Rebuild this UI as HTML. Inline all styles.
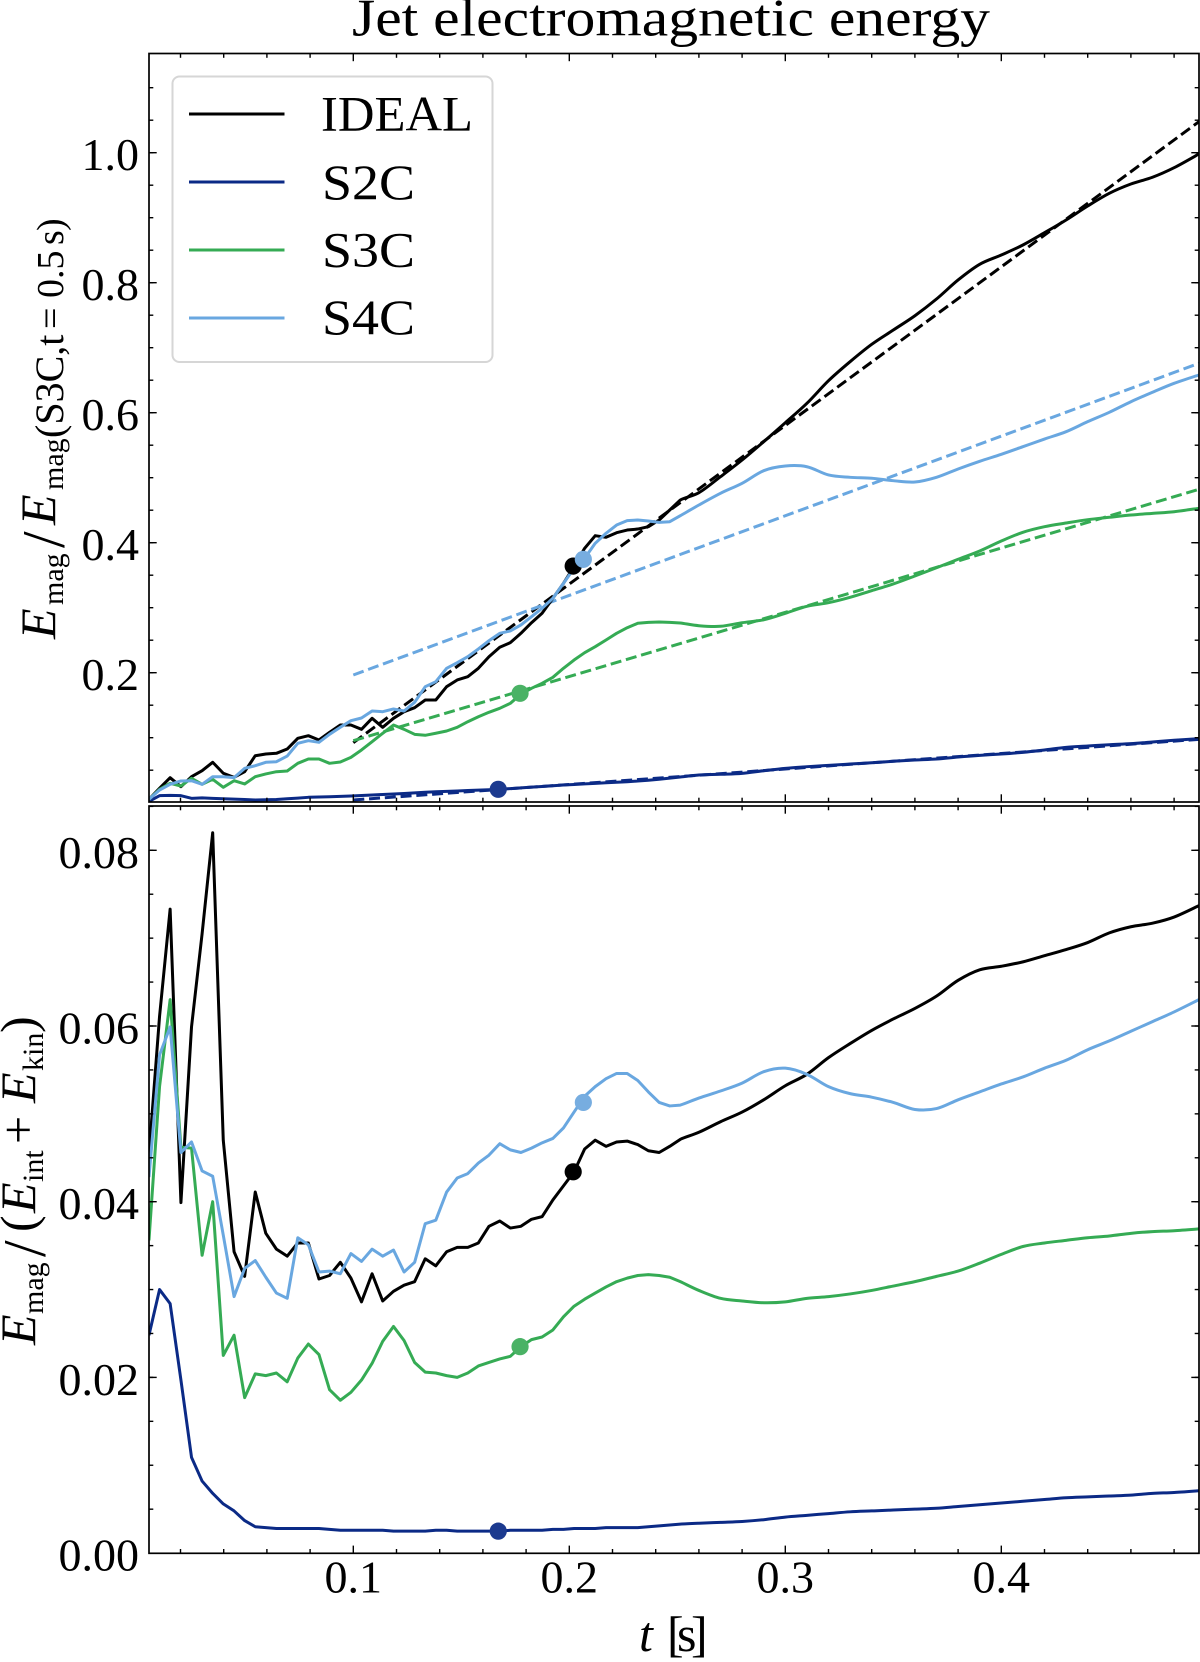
<!DOCTYPE html>
<html lang="en">
<head>
<meta charset="utf-8">
<title>Jet electromagnetic energy</title>
<style>
html,body{margin:0;padding:0;background:#fff;}
svg{display:block;font-family:"Liberation Serif",serif;fill:#000;}
</style>
</head>
<body>
<svg id="chart" xmlns="http://www.w3.org/2000/svg" width="1200" height="1662" viewBox="0 0 1200 1662">
<rect width="1200" height="1662" fill="#fff"/>
<defs>
<clipPath id="clip-top"><rect x="149" y="53.5" width="1050" height="748.5"/></clipPath>
<clipPath id="clip-bottom"><rect x="149" y="806" width="1050" height="747.5"/></clipPath>
</defs>
<text x="352" y="35.5" font-size="53" textLength="638" lengthAdjust="spacingAndGlyphs">Jet electromagnetic energy</text>

<g id="top-lines" clip-path="url(#clip-top)"></g>
<g id="bottom-lines" clip-path="url(#clip-bottom)"></g>
<g id="top-axes"></g>
<g id="bottom-axes"></g>

<g transform="translate(55,639) rotate(-90)">
<text x="0" y="0" font-size="50" font-style="italic">E</text>
<text x="34" y="8" font-size="30">mag</text>
<text x="91" y="9" font-size="60">/</text>
<text x="114" y="0" font-size="50" font-style="italic">E</text>
<text x="149" y="8" font-size="30">mag</text>
<text x="201" y="8" font-size="40">(S3C,t</text>
<text x="310" y="8" font-size="38">=</text>
<text x="341" y="8" font-size="38">0.5</text>
<text x="394" y="8" font-size="38">s</text>
<text x="408" y="8" font-size="38">)</text>
</g>

<g transform="translate(35,1345) rotate(-90)">
<text x="0" y="0" font-size="50" font-style="italic">E</text>
<text x="31" y="8" font-size="30">mag</text>
<text x="88" y="10" font-size="60">/</text>
<text x="113" y="0" font-size="50">(</text>
<text x="132" y="0" font-size="50" font-style="italic">E</text>
<text x="163" y="8" font-size="30">int</text>
<text x="201" y="0" font-size="50">+</text>
<text x="242" y="0" font-size="50" font-style="italic">E</text>
<text x="274" y="8" font-size="30">kin</text>
<text x="312" y="0" font-size="50">)</text>
</g>

<g>
<text x="639" y="1651" font-size="50" font-style="italic">t</text>
<text x="667" y="1651" font-size="50">[</text>
<text x="677" y="1651" font-size="50">s</text>
<text x="691" y="1651" font-size="50">]</text>
</g>

<g>
<rect x="172.5" y="76.5" width="320" height="285.5" rx="7" ry="7" fill="#fff" stroke="#d6d6d6" stroke-width="2"/>
<g>
<line x1="189" x2="284.5" y1="114" y2="114" stroke="#000" stroke-width="3"/>
<text x="321" y="130.7" font-size="50" textLength="152" lengthAdjust="spacingAndGlyphs">IDEAL</text>
</g>
<g>
<line x1="189" x2="284.5" y1="182" y2="182" stroke="#0b2a86" stroke-width="3"/>
<text x="322" y="199" font-size="50" textLength="93" lengthAdjust="spacingAndGlyphs">S2C</text>
</g>
<g>
<line x1="189" x2="284.5" y1="250" y2="250" stroke="#35ab54" stroke-width="3"/>
<text x="322" y="266.7" font-size="50" textLength="93" lengthAdjust="spacingAndGlyphs">S3C</text>
</g>
<g>
<line x1="189" x2="284.5" y1="318" y2="318" stroke="#69a7e0" stroke-width="3"/>
<text x="322" y="334" font-size="50" textLength="93" lengthAdjust="spacingAndGlyphs">S4C</text>
</g>
</g>
</svg>

<script>
/* ---------- data ---------- */
const times = [
.0054,.0103,.0152,.0202,.0251,.0300,.0349,.0398,.0448,.0497,
.0546,.0595,.0644,.0694,.0743,.0792,.0841,.0890,.0940,.0989,
.1038,.1087,.1136,.1186,.1235,.1284,.1333,.1382,.1432,.1481,
.1530,.1579,.1628,.1678,.1727,.1776,.1825,.1874,.1924,.1973,
.2022,.2071,.2120,.2170,.2219,.2268,.2317,.2366,.2416,.2465,.2514,
.26,.27,.28,.29,.30,.31,.32,.33,.34,.35,.36,.37,.38,.39,.40,.41,.42,.43,.44,.45,.46,.47,.48,.4915];

const energyIdeal = [
.0052,.0221,.0385,.0246,.0400,.0492,.0622,.0453,.0390,.0477,
.0723,.0749,.0760,.0826,.0991,.1031,.0965,.1083,.1195,.1195,
.1129,.1298,.1160,.1298,.1400,.1462,.1580,.1580,.1785,.1888,
.1938,.2068,.2246,.2391,.2462,.2606,.2769,.2914,.3145,.3375,
.3631,.3914,.4108,.4083,.4154,.4195,.4210,.4246,.4349,.4503,.4657,
.4769,.5015,.5272,.5554,.5846,.6144,.6492,.6785,.7052,.7272,.7492,.7749,.8042,.8283,.8426,.8580,.8769,.8965,.9180,.9375,.9518,.9622,.9769,.9980];

const energyS2C = [
.0020,.0108,.0113,.0108,.0067,.0075,.0067,.0060,.0055,.0050,
.0042,.0045,.0050,.0060,.0070,.0083,.0087,.0092,.0098,.0103,
.0110,.0118,.0126,.0134,.0142,.0151,.0160,.0169,.0175,.0181,
.0187,.0193,.0200,.0206,.0217,.0228,.0239,.0250,.0261,.0272,
.0281,.0289,.0298,.0306,.0315,.0323,.0333,.0345,.0360,.0378,.0395,
.0426,.0437,.0452,.0492,.0529,.0554,.0575,.0595,.0615,.0637,.0657,.0672,.0703,.0729,.0749,.0775,.0811,.0852,.0872,.0892,.0908,.0934,.0960,.0985];

const energyS3C = [
.0052,.0206,.0298,.0257,.0375,.0283,.0360,.0237,.0338,.0288,
.0400,.0442,.0477,.0488,.0606,.0672,.0672,.0606,.0626,.0698,
.0811,.0938,.1068,.1195,.1129,.1052,.1037,.1068,.1103,.1160,
.1246,.1323,.1391,.1452,.1529,.1670,.1760,.1837,.1929,.2068,
.2195,.2308,.2400,.2503,.2606,.2692,.2760,.2775,.2780,.2775,.2765,
.2723,.2714,.2769,.2815,.2914,.3022,.3077,.3160,.3262,.3365,.3488,.3615,.3745,.3872,.4026,.4160,.4246,.4303,.4354,.4391,.4426,.4452,.4477,.4529];

const energyS4C = [
.0052,.0195,.0283,.0334,.0338,.0283,.0400,.0400,.0385,.0529,
.0569,.0622,.0631,.0718,.0914,.0954,.0929,.1052,.1160,.1262,
.1303,.1411,.1400,.1442,.1411,.1545,.1785,.1862,.2068,.2154,
.2246,.2365,.2492,.2606,.2642,.2734,.2862,.2991,.3145,.3375,
.3606,.3760,.3991,.4145,.4272,.4340,.4349,.4334,.4313,.4323,.4415,
.4580,.4760,.4914,.5108,.5180,.5169,.5042,.5006,.4991,.4954,.4934,.5006,.5134,.5252,.5360,.5477,.5595,.5708,.5862,.6006,.6169,.6314,.6452,.6580];

const ratioIdeal = [
.0453,.0611,.0733,.0399,.0599,.0705,.0820,.0470,.0343,.0315,
.0411,.0364,.0346,.0338,.0353,.0353,.0312,.0316,.0331,.0313,
.0286,.0318,.0287,.0298,.0305,.0309,.0335,.0327,.0343,.0348,
.0348,.0353,.0372,.0378,.0370,.0372,.0380,.0383,.0402,.0418,
.0434,.0460,.0470,.0463,.0468,.0469,.0465,.0458,.0456,.0463,.0471,
.0479,.0491,.0502,.0516,.0532,.0545,.0564,.0580,.0595,.0608,.0620,.0634,.0652,.0664,.0668,.0673,.0680,.0687,.0695,.0706,.0713,.0717,.0724,.0737];

const ratioS2C = [
.0248,.0300,.0284,.0197,.0109,.0082,.0068,.0056,.0048,.0037,
.0030,.0029,.0028,.0028,.0028,.0028,.0028,.0027,.0026,.0026,
.0026,.0026,.0026,.0025,.0025,.0025,.0025,.0026,.0026,.0025,
.0025,.0025,.0025,.0025,.0026,.0026,.0026,.0026,.0027,.0027,
.0028,.0028,.0028,.0029,.0029,.0029,.0029,.0030,.0031,.0032,.0033,
.0034,.0035,.0036,.0038,.0041,.0043,.0045,.0047,.0048,.0049,.0050,.0051,.0053,.0055,.0057,.0059,.0061,.0063,.0064,.0065,.0066,.0068,.0069,.0071];

const ratioS3C = [
.0356,.0531,.0630,.0462,.0461,.0339,.0400,.0225,.0248,.0177,
.0204,.0202,.0205,.0195,.0222,.0238,.0226,.0186,.0174,.0183,
.0197,.0216,.0241,.0258,.0242,.0217,.0206,.0205,.0202,.0200,
.0205,.0213,.0217,.0221,.0224,.0235,.0243,.0246,.0254,.0269,
.0281,.0289,.0296,.0303,.0309,.0313,.0316,.0317,.0316,.0314,.0309,
.0299,.0290,.0287,.0285,.0286,.0290,.0292,.0295,.0299,.0304,.0309,.0315,.0321,.0330,.0340,.0349,.0353,.0356,.0359,.0361,.0364,.0366,.0367,.0369];

const ratioS4C = [
.0428,.0567,.0599,.0456,.0468,.0435,.0429,.0362,.0292,.0324,
.0333,.0314,.0296,.0290,.0359,.0351,.0320,.0321,.0318,.0341,
.0332,.0346,.0338,.0345,.0320,.0331,.0375,.0379,.0411,.0427,
.0432,.0444,.0453,.0466,.0459,.0456,.0461,.0467,.0472,.0484,
.0502,.0520,.0531,.0540,.0546,.0546,.0538,.0525,.0513,.0509,.0510,
.0518,.0526,.0535,.0548,.0552,.0545,.0531,.0523,.0519,.0513,.0505,.0506,.0516,.0525,.0534,.0542,.0552,.0561,.0573,.0583,.0594,.0605,.0616,.0630];

/* linear fits: [t start, t end] and values at those times */
const fitTimes = [0.1, 0.4915];
const fitIdeal = [0.0923, 1.0477];
const fitS2C = [0.0042, 0.0975];
const fitS3C = [0.0954, 0.4821];
const fitS4C = [0.1965, 0.6760];

/* transition markers */
const markerNames = ["ideal", "s2c", "s3c", "s4c"];
const markerTimes = [0.2018, 0.1671, 0.1772, 0.2065];
const markerEnergy = [0.364, 0.0206, 0.1683, 0.3744];
const markerRatio = [0.0434, 0.0025, 0.0235, 0.0513];

/* ticks */
const xTickValues = [0.1, 0.2, 0.3, 0.4];
const xTickLabels = ["0.1", "0.2", "0.3", "0.4"];
const energyTickValues = [0.2, 0.4, 0.6, 0.8, 1.0];
const energyTickLabels = ["0.2", "0.4", "0.6", "0.8", "1.0"];
const ratioTickValues = [0, 0.02, 0.04, 0.06, 0.08];
const ratioTickLabels = ["0.00", "0.02", "0.04", "0.06", "0.08"];

/* ---------- geometry ---------- */
const NS = "http://www.w3.org/2000/svg";
const L = 149, R = 1199;
const TOP_T = 53.5, TOP_B = 802, BOT_T = 806, BOT_B = 1553.3;
const SMOOTH_FROM = 50; /* index after which the sampled curve is drawn smoothly */
function xScale(t) { return 353.3 + (t - 0.1) * 2160; }
function yEnergy(v) { return 802.7 - v * 650; }
function yRatio(v) { return 1553.1 - v * 8785; }

const STYLES = {
  ideal: { line: "#000000", marker: "#000000" },
  s2c: { line: "#0b2a86", marker: "#1c3a8f" },
  s3c: { line: "#35ab54", marker: "#4ab265" },
  s4c: { line: "#69a7e0", marker: "#77ade0" }
};

function pathFrom(ts, vs, yFn) {
  const px = ts.map(xScale);
  const py = vs.map(yFn);
  let d = "M" + px[0].toFixed(2) + " " + py[0].toFixed(2);
  for (let i = 1; i < ts.length; i++) {
    if (ts.length > 2 && i > SMOOTH_FROM) {
      /* Catmull-Rom segment through the sampled values */
      const p0 = i - 2, p3 = Math.min(i + 1, ts.length - 1);
      const c1x = px[i - 1] + (px[i] - px[p0]) / 6;
      const c1y = py[i - 1] + (py[i] - py[p0]) / 6;
      const c2x = px[i] - (px[p3] - px[i - 1]) / 6;
      const c2y = py[i] - (py[p3] - py[i - 1]) / 6;
      d += "C" + c1x.toFixed(2) + " " + c1y.toFixed(2) + " " + c2x.toFixed(2) + " " + c2y.toFixed(2) + " " + px[i].toFixed(2) + " " + py[i].toFixed(2);
    } else {
      d += "L" + px[i].toFixed(2) + " " + py[i].toFixed(2);
    }
  }
  return d;
}

function drawLine(parent, ts, vs, yFn, color, dashed, name) {
  const p = document.createElementNS(NS, "path");
  p.setAttribute("d", pathFrom(ts, vs, yFn));
  p.setAttribute("fill", "none");
  p.setAttribute("stroke", color);
  p.setAttribute("stroke-width", "3");
  p.setAttribute("stroke-linejoin", "round");
  if (dashed) p.setAttribute("stroke-dasharray", "11 4.8");
  
  
  parent.appendChild(p);
}

function drawMarker(parent, t, v, yFn, color, name) {
  const c = document.createElementNS(NS, "circle");
  c.setAttribute("cx", xScale(t).toFixed(2));
  c.setAttribute("cy", yFn(v).toFixed(2));
  c.setAttribute("r", "8.6");
  c.setAttribute("fill", color);
  
  
  parent.appendChild(c);
}

function seg(parent, x1, y1, x2, y2, w, name) {
  const l = document.createElementNS(NS, "line");
  l.setAttribute("x1", x1);
  l.setAttribute("y1", y1);
  l.setAttribute("x2", x2);
  l.setAttribute("y2", y2);
  l.setAttribute("stroke", "#000");
  l.setAttribute("stroke-width", w);
  
  
  parent.appendChild(l);
}

function label(parent, x, y, txt, anchor, name) {
  const t = document.createElementNS(NS, "text");
  t.setAttribute("x", x);
  t.setAttribute("y", y);
  t.setAttribute("font-size", "46");
  t.setAttribute("text-anchor", anchor);
  t.textContent = txt;
  
  
  parent.appendChild(t);
}

function drawAxes(parent, top, bottom, yFn, yVals, yLabels, yMinorStep, yMinorMax, showX) {
  const MAJ = 7.7, MIN = 4.3, W = 1.4;
  /* x ticks, top and bottom edges */
  for (let i = 1; i <= 24; i++) {
    const t = i * 0.02;
    const x = xScale(t);
    if (x <= L || x >= R) continue;
    const major = i % 5 === 0;
    const len = major ? MAJ : MIN;
    seg(parent, x, bottom, x, bottom - len, W, major ? "x-major-tick" : "x-minor-tick");
    seg(parent, x, top, x, top + len, W, major ? "x-major-tick-top" : "x-minor-tick-top");
  }
  /* y minor ticks */
  for (let i = 1; i * yMinorStep <= yMinorMax; i++) {
    const y = yFn(i * yMinorStep);
    seg(parent, L, y, L + MIN, y, W, "y-minor-tick");
    seg(parent, R, y, R - MIN, y, W, "y-minor-tick-right");
  }
  /* y major ticks + labels */
  yVals.forEach(function (v, i) {
    const y = yFn(v);
    if (y < bottom - 0.5) {
      seg(parent, L, y, L + MAJ, y, W, "y-major-tick");
      seg(parent, R, y, R - MAJ, y, W, "y-major-tick-right");
    }
    label(parent, 139, y + 17.5, yLabels[i], "end", "y-tick-label");
  });
  /* spines */
  const r = document.createElementNS(NS, "rect");
  r.setAttribute("x", L);
  r.setAttribute("y", top);
  r.setAttribute("width", R - L);
  r.setAttribute("height", bottom - top);
  r.setAttribute("fill", "none");
  r.setAttribute("stroke", "#000");
  r.setAttribute("stroke-width", "1.7");
  
  
  parent.appendChild(r);
  if (showX) {
    xTickValues.forEach(function (t, i) {
      label(parent, xScale(t), 1592.7, xTickLabels[i], "middle", "x-tick-label");
    });
  }
}

const topLines = document.getElementById("top-lines");
const bottomLines = document.getElementById("bottom-lines");

/* dashed fits */
drawLine(topLines, fitTimes, fitIdeal, yEnergy, STYLES.ideal.line, true, "fit-line-ideal");
drawLine(topLines, fitTimes, fitS2C, yEnergy, STYLES.s2c.line, true, "fit-line-s2c");
drawLine(topLines, fitTimes, fitS3C, yEnergy, STYLES.s3c.line, true, "fit-line-s3c");
drawLine(topLines, fitTimes, fitS4C, yEnergy, STYLES.s4c.line, true, "fit-line-s4c");

/* solid series */
drawLine(topLines, times, energyIdeal, yEnergy, STYLES.ideal.line, false, "energy-line-ideal");
drawLine(topLines, times, energyS2C, yEnergy, STYLES.s2c.line, false, "energy-line-s2c");
drawLine(topLines, times, energyS3C, yEnergy, STYLES.s3c.line, false, "energy-line-s3c");
drawLine(topLines, times, energyS4C, yEnergy, STYLES.s4c.line, false, "energy-line-s4c");

drawLine(bottomLines, times, ratioIdeal, yRatio, STYLES.ideal.line, false, "ratio-line-ideal");
drawLine(bottomLines, times, ratioS2C, yRatio, STYLES.s2c.line, false, "ratio-line-s2c");
drawLine(bottomLines, times, ratioS3C, yRatio, STYLES.s3c.line, false, "ratio-line-s3c");
drawLine(bottomLines, times, ratioS4C, yRatio, STYLES.s4c.line, false, "ratio-line-s4c");

/* markers */
markerNames.forEach(function (n, i) {
  drawMarker(topLines, markerTimes[i], markerEnergy[i], yEnergy, STYLES[n].marker, "energy-marker-" + n);
  drawMarker(bottomLines, markerTimes[i], markerRatio[i], yRatio, STYLES[n].marker, "ratio-marker-" + n);
});

/* axes */
drawAxes(document.getElementById("top-axes"), TOP_T, TOP_B, yEnergy, energyTickValues, energyTickLabels, 0.05, 1.15, false);
drawAxes(document.getElementById("bottom-axes"), BOT_T, BOT_B, yRatio, ratioTickValues, ratioTickLabels, 0.005, 0.085, true);
</script>
</body>
</html>
